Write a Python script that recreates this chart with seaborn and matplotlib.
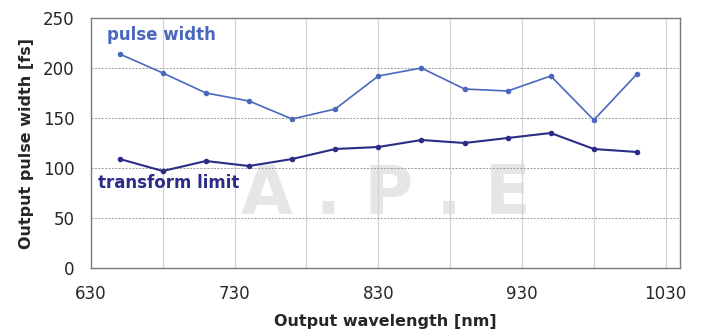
import pandas as pd
import matplotlib.pyplot as plt
import seaborn as sns

# values
wavelength = [650, 680, 710, 740, 770, 800, 830, 860, 890, 920, 950, 980, 1010]
pulse_width = [214, 195, 175, 167, 149, 159, 192, 200, 179, 177, 192, 148, 194]
transform_limit = [109, 97, 107, 102, 109, 119, 121, 128, 125, 130, 135, 119, 116]
x_ticks = [630, 730, 830, 930, 1030]
y_ticks = [0, 50, 100, 150, 200, 250]

c_pulse = '#4a68bd'
c_tl = '#2b2c86'

df = pd.DataFrame({'wavelength': wavelength,
                   'pulse width': pulse_width,
                   'transform limit': transform_limit})

sns.set_style('white')
plt.rcParams['font.family'] = ['DejaVu Sans']

fig = plt.figure(figsize=(7.02, 3.36), dpi=100)
ax = fig.add_axes([0.1296, 0.2024, 0.8391, 0.744])

# faint logo watermark
ax.text(835, 73, 'A . P . E', color='#e6e6e6', fontsize=48, fontweight='bold',
        ha='center', va='center', zorder=0)

sns.lineplot(data=df, x='wavelength', y='pulse width', ax=ax, color=c_pulse,
             marker='o', markersize=4, markeredgewidth=0, linewidth=1.2, zorder=3)
sns.lineplot(data=df, x='wavelength', y='transform limit', ax=ax, color=c_tl,
             marker='o', markersize=4, markeredgewidth=0, linewidth=1.5, zorder=3)

ax.set_xlim(630, 1040)
ax.set_ylim(0, 250)
ax.set_xticks(x_ticks)
ax.set_xticks([680, 730, 780, 830, 880, 930, 980, 1030], minor=True)
ax.set_yticks(y_ticks)

ax.grid(False)
for xv in [680, 730, 780, 830, 880, 930, 980, 1030]:
    ax.axvline(xv, color='#d4d4d4', linewidth=0.9, zorder=1)
for yv in [50, 100, 150, 200]:
    ax.axhline(yv, color='#9a9a9a', linewidth=0.7, linestyle=(0, (2, 1.5)), zorder=1)

for s in ax.spines.values():
    s.set_color('#7a7a7a')
    s.set_linewidth(1.0)

ax.tick_params(axis='x', which='both', direction='in', length=4, color='#7a7a7a',
               labelsize=12, pad=12)
ax.tick_params(axis='y', which='both', length=0, labelsize=12, pad=12)

ax.set_xlabel('Output wavelength [nm]', fontsize=11.5, fontweight='bold', labelpad=8)
ax.set_ylabel('Output pulse width [fs]', fontsize=11.5, fontweight='bold', labelpad=6)

ax.text(641, 233, 'pulse width', color=c_pulse, fontsize=12, fontweight='bold',
        va='center')
ax.text(635, 85, 'transform limit', color=c_tl, fontsize=12, fontweight='bold',
        va='center')

fig.savefig('out.png', dpi=100)
